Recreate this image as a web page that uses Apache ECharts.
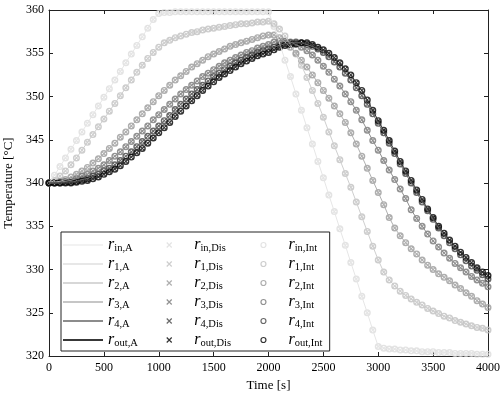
<!DOCTYPE html>
<html>
<head>
<meta charset="utf-8">
<script src="https://cdn.jsdelivr.net/npm/echarts@6/dist/echarts.min.js"></script>
<style>
  html, body { margin: 0; padding: 0; background: #fff; }
  #chart { width: 501px; height: 398px; }
</style>
</head>
<body>
<div id="chart"></div>
<script>
// time samples [s]
const time = [
  0, 50, 100, 150, 200, 250, 300, 350, 400, 450, 500, 550, 600, 650, 700, 750, 800, 850, 900, 950, 1000,
  1050, 1100, 1150, 1200, 1250, 1300, 1350, 1400, 1450, 1500, 1550, 1600, 1650, 1700, 1750, 1800, 1850, 1900, 1950, 2000,
  2050, 2100, 2150, 2200, 2250, 2300, 2350, 2400, 2450, 2500, 2550, 2600, 2650, 2700, 2750, 2800, 2850, 2900, 2950, 3000,
  3050, 3100, 3150, 3200, 3250, 3300, 3350, 3400, 3450, 3500, 3550, 3600, 3650, 3700, 3750, 3800, 3850, 3900, 3950, 4000
]

// temperatures [°C] at each radius
const rIn = [
  340.0, 340.9, 341.9, 342.9, 343.9, 344.9, 345.9, 346.9, 347.9, 348.9, 349.9, 350.9, 351.9, 352.9, 353.9, 354.9, 355.9, 356.9, 357.9, 358.9, 359.6,
  359.7, 359.7, 359.8, 359.8, 359.8, 359.8, 359.8, 359.8, 359.8, 359.8, 359.8, 359.8, 359.8, 359.8, 359.8, 359.8, 359.8, 359.8, 359.8, 359.8,
  358.1, 356.2, 354.2, 352.3, 350.3, 348.4, 346.4, 344.5, 342.5, 340.6, 338.6, 336.7, 334.7, 332.8, 330.8, 328.9, 326.9, 325.0, 323.0, 321.1,
  320.9, 320.8, 320.8, 320.7, 320.7, 320.6, 320.6, 320.5, 320.5, 320.5, 320.4, 320.4, 320.4, 320.3, 320.3, 320.3, 320.3, 320.2, 320.2, 320.2
]
const r1 = [
  340.0, 340.3, 340.8, 341.4, 342.1, 342.9, 343.8, 344.7, 345.6, 346.5, 347.4, 348.3, 349.2, 350.1, 351.0, 351.9, 352.8, 353.6, 354.4, 355.1, 355.7,
  356.2, 356.5, 356.8, 357.0, 357.2, 357.4, 357.5, 357.7, 357.8, 357.9, 358.0, 358.1, 358.2, 358.3, 358.4, 358.4, 358.5, 358.6, 358.6, 358.7,
  358.4, 357.8, 357.0, 356.0, 354.9, 353.6, 352.2, 350.7, 349.2, 347.6, 345.9, 344.3, 342.7, 341.1, 339.5, 337.8, 336.1, 334.4, 332.7, 331.1,
  329.7, 328.8, 328.1, 327.5, 327.0, 326.6, 326.2, 325.9, 325.5, 325.2, 324.9, 324.6, 324.4, 324.1, 323.9, 323.7, 323.5, 323.3, 323.2, 323.0
]
const r2 = [
  340.0, 340.1, 340.2, 340.4, 340.7, 341.0, 341.4, 341.8, 342.3, 342.8, 343.4, 344.0, 344.6, 345.3, 345.9, 346.6, 347.3, 348.0, 348.7, 349.4, 350.1,
  350.7, 351.3, 351.9, 352.4, 352.9, 353.4, 353.8, 354.2, 354.6, 354.9, 355.2, 355.5, 355.8, 356.0, 356.2, 356.4, 356.6, 356.8, 357.0, 357.1,
  357.1, 356.8, 356.3, 355.7, 355.0, 354.2, 353.4, 352.5, 351.6, 350.7, 349.8, 348.9, 348.0, 347.0, 345.8, 344.5, 343.1, 341.7, 340.3, 338.9,
  337.5, 336.0, 334.8, 333.9, 333.1, 332.4, 331.8, 331.1, 330.5, 330.0, 329.5, 329.1, 328.7, 328.2, 327.8, 327.3, 326.9, 326.4, 326.0, 325.6
]
const r3 = [
  340.0, 340.0, 340.1, 340.2, 340.3, 340.5, 340.8, 341.0, 341.4, 341.7, 342.1, 342.6, 343.1, 343.6, 344.2, 344.8, 345.4, 346.0, 346.6, 347.3, 347.9,
  348.5, 349.1, 349.7, 350.3, 350.8, 351.3, 351.8, 352.3, 352.7, 353.1, 353.5, 353.9, 354.2, 354.5, 354.8, 355.1, 355.3, 355.6, 355.8, 356.0,
  356.3, 356.4, 356.4, 356.3, 356.0, 355.7, 355.3, 354.8, 354.2, 353.5, 352.8, 352.0, 351.2, 350.3, 349.4, 348.4, 347.3, 346.1, 344.9, 343.8,
  342.6, 341.5, 340.4, 339.3, 338.2, 336.9, 335.9, 335.0, 334.1, 333.3, 332.6, 331.9, 331.3, 330.7, 330.2, 329.7, 329.2, 328.8, 328.4, 328.0
]
const r4 = [
  340.0, 340.0, 340.0, 340.1, 340.1, 340.2, 340.4, 340.5, 340.8, 341.0, 341.4, 341.7, 342.1, 342.6, 343.1, 343.6, 344.2, 344.8, 345.4, 346.0, 346.6,
  347.2, 347.8, 348.5, 349.1, 349.7, 350.3, 350.8, 351.3, 351.8, 352.3, 352.7, 353.1, 353.5, 353.9, 354.2, 354.5, 354.8, 355.1, 355.3, 355.5,
  355.7, 355.9, 356.1, 356.2, 356.3, 356.2, 356.0, 355.8, 355.5, 355.1, 354.6, 354.0, 353.4, 352.7, 351.9, 351.0, 350.1, 349.1, 348.0, 346.9,
  345.8, 344.6, 343.4, 342.2, 341.1, 340.0, 338.9, 337.8, 336.8, 335.8, 334.8, 333.9, 333.1, 332.4, 331.7, 331.0, 330.4, 329.9, 329.4, 328.9
]
const rOut = [
  340.0, 340.0, 340.0, 340.0, 340.0, 340.1, 340.2, 340.3, 340.5, 340.7, 341.0, 341.3, 341.6, 342.0, 342.5, 343.0, 343.5, 344.0, 344.6, 345.2, 345.8,
  346.4, 347.0, 347.7, 348.3, 348.9, 349.5, 350.1, 350.7, 351.2, 351.7, 352.2, 352.6, 353.0, 353.4, 353.8, 354.1, 354.4, 354.7, 354.9, 355.1,
  355.4, 355.7, 355.9, 356.0, 356.1, 356.2, 356.2, 356.0, 355.7, 355.4, 355.0, 354.5, 353.9, 353.2, 352.5, 351.6, 350.7, 349.6, 348.4, 347.2,
  346.1, 344.9, 343.7, 342.5, 341.4, 340.3, 339.2, 338.1, 337.0, 336.0, 335.0, 334.2, 333.4, 332.7, 332.0, 331.4, 330.8, 330.2, 329.7, 329.3
]

const radii = ['in', '1', '2', '3', '4', 'out']
const curves = [rIn, r1, r2, r3, r4, rOut]

// grey levels, light (inner) to dark (outer)
const lineColors = ['#e6e6e6', '#cfcfcf', '#b0b0b0', '#8e8e8e', '#666666', '#383838']
const markColors = ['#dcdcdc', '#c0c0c0', '#9a9a9a', '#777777', '#444444', '#000000']
const lineWidths = [1, 1, 1.2, 1.2, 1.4, 2]

const serif = 'Liberation Serif'
const crossPath = 'path://M0,0L10,10M10,0L0,10'

const chart = echarts.init(document.getElementById('chart'), null, { renderer: 'canvas' })

const series = []
const legendData = []
radii.forEach((r, i) => {
  const pts = time.map((t, k) => [t, curves[i][k]])
  series.push({
    name: 'r_' + r + ',A',
    type: 'line',
    data: pts,
    symbol: 'none',
    showSymbol: false,
    silent: true,
    lineStyle: { color: lineColors[i], width: 1 }
  })
  series.push({
    name: 'r_' + r + ',Dis',
    type: 'scatter',
    data: pts,
    symbol: crossPath,
    symbolSize: 3.4,
    silent: true,
    clip: false,
    itemStyle: { color: 'none', borderColor: markColors[i], borderWidth: 1 }
  })
  series.push({
    name: 'r_' + r + ',Int',
    type: 'scatter',
    data: pts,
    symbol: 'circle',
    symbolSize: 5.6,
    silent: true,
    clip: false,
    itemStyle: { color: 'none', borderColor: markColors[i], borderWidth: 1.4 }
  })
})

// legend: column of lines, column of crosses, column of circles
radii.forEach((r, i) => {
  legendData.push({
    name: 'r_' + r + ',A',
    icon: 'path://M0,0H40V' + lineWidths[i] + 'H0Z',
    itemStyle: { color: lineColors[i], borderWidth: 0 }
  })
})
radii.forEach((r, i) => {
  legendData.push({
    name: 'r_' + r + ',Dis',
    icon: crossPath,
    itemStyle: { color: 'none', borderColor: markColors[i], borderWidth: 1.2 }
  })
})
radii.forEach((r, i) => {
  legendData.push({
    name: 'r_' + r + ',Int',
    icon: 'circle',
    itemStyle: { color: 'none', borderColor: markColors[i], borderWidth: 1.2 }
  })
})

// subscript token per legend column, so each column gets a fixed width
const subKey = (name) => (name.endsWith(',A') ? 'a' : name.endsWith(',Dis') ? 'b' : 'c')
const subStyle = (w) => ({ fontFamily: serif, fontSize: 10.5, lineHeight: 14, width: w, padding: [7, 0, 0, 0] })

const axisLine = { show: true, onZero: false, lineStyle: { color: '#222', width: 1 } }
const axisTick = { show: true, inside: true, length: 4, lineStyle: { color: '#222' } }
const labelStyle = { fontFamily: serif, fontSize: 12, color: '#000', formatter: (v) => String(v) }

const option = {
  animation: false,
  backgroundColor: '#fff',
  grid: { left: 49, right: 13, top: 10, bottom: 42, containLabel: false, outerBoundsMode: 'none' },
  xAxis: [
    {
      type: 'value', min: 0, max: 4000, interval: 500, position: 'bottom',
      axisLine, axisTick, splitLine: { show: false },
      axisLabel: Object.assign({ margin: 6 }, labelStyle),
      name: 'Time [s]', nameLocation: 'middle', nameGap: 22,
      nameTextStyle: { fontFamily: serif, fontSize: 13, color: '#000' }
    },
    {
      type: 'value', min: 0, max: 4000, interval: 500, position: 'top',
      axisLine, axisTick, splitLine: { show: false }, axisLabel: { show: false }
    }
  ],
  yAxis: [
    {
      type: 'value', min: 320, max: 360, interval: 5, position: 'left',
      axisLine, axisTick, splitLine: { show: false },
      axisLabel: Object.assign({ margin: 5 }, labelStyle),
      name: 'Temperature [°C]', nameLocation: 'middle', nameGap: 30,
      nameTextStyle: { fontFamily: serif, fontSize: 13, color: '#000' }
    },
    {
      type: 'value', min: 320, max: 360, interval: 5, position: 'right',
      axisLine, axisTick, splitLine: { show: false }, axisLabel: { show: false }
    }
  ],
  legend: {
    orient: 'vertical',
    left: 61,
    top: 232,
    height: 118,
    padding: [4, 3, 2, 2],
    itemWidth: 40,
    itemHeight: 5,
    itemGap: 1,
    borderColor: '#222',
    borderWidth: 1,
    backgroundColor: '#fff',
    selectedMode: false,
    data: legendData,
    formatter: (name) => '{i|r}{' + subKey(name) + '|' + name.slice(2) + '}',
    textStyle: {
      fontFamily: serif,
      color: '#000',
      rich: {
        i: { fontFamily: serif, fontStyle: 'italic', fontSize: 16, lineHeight: 14 },
        a: subStyle(34),
        b: subStyle(57),
        c: subStyle(32)
      }
    }
  },
  series
}

chart.setOption(option)
</script>
</body>
</html>
